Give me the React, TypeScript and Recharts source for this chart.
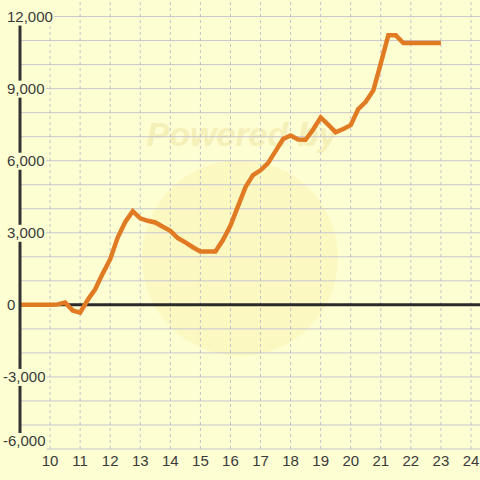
import { LineChart, Line, XAxis, YAxis, ReferenceLine } from 'recharts'

const hours = [
  9, 9.25, 9.5, 9.75, 10, 10.25, 10.5, 10.75, 11, 11.25, 11.5, 11.75, 12, 12.25, 12.5, 12.75,
  13, 13.25, 13.5, 13.75, 14, 14.25, 14.5, 14.75, 15, 15.25, 15.5, 15.75, 16, 16.25, 16.5, 16.75,
  17, 17.25, 17.5, 17.75, 18, 18.25, 18.5, 18.75, 19, 19.25, 19.5, 19.75, 20, 20.25, 20.5, 20.75,
  21, 21.25, 21.5, 21.75, 22, 22.25, 22.5, 22.75, 23
]
const profit = [
  0, 0, 0, 0, 0, 20, 100, -230, -320, 200, 650, 1300, 1900, 2800, 3450, 3900,
  3600, 3500, 3430, 3250, 3080, 2780, 2600, 2400, 2220, 2220, 2220, 2700, 3300, 4100, 4900, 5400,
  5600, 5900, 6400, 6900, 7050, 6880, 6870, 7300, 7800, 7500, 7180, 7320, 7480, 8150, 8450, 8920,
  10050, 11220, 11220, 10900, 10900, 10900, 10900, 10900, 10900
]
const xTicks = [10, 11, 12, 13, 14, 15, 16, 17, 18, 19, 20, 21, 22, 23, 24]
const yTicks = [-6000, -3000, 0, 3000, 6000, 9000, 12000]
const gridTicks = [-6000, -5000, -4000, -3000, -2000, -1000, 1000, 2000, 3000, 4000, 5000, 6000, 7000, 8000, 9000, 10000, 11000, 12000]

const data = hours.map((t, i) => ({ t, v: profit[i] }))

const bg = '#FEFED3'
const font = '"Liberation Sans", Arial, sans-serif'

const fmt = (v: number) => v.toLocaleString('en-US')

function YTick({ y, payload }: any) {
  const value = payload.value as number
  const label = fmt(value)
  const tx = value < 0 ? 3 : 7
  const w = label.replace(/[,-]/g, '').length * 8.4 + (label.includes(',') ? 4.2 : 0) + (value < 0 ? 5 : 0)
  const base = value === -6000 ? y - 3 : y + 5
  const top = value === 12000 ? 0 : base - 13
  return (
    <g>
      <rect x={tx - 1} y={top} width={w + 2} height={base + 4 - top} fill={bg} />
      <text x={tx} y={base} fontSize={15} fontFamily={font} fill="#3a3a3a" textAnchor="start">
        {label}
      </text>
    </g>
  )
}

function XTick({ x, payload }: any) {
  return (
    <text x={x} y={466} fontSize={15} fontFamily={font} fill="#3a3a3a" textAnchor="middle">
      {payload.value}
    </text>
  )
}

export default function App() {
  return (
    <div style={{ position: 'absolute', left: 0, top: 0, width: 480, height: 480, background: bg }}>
      <svg width={480} height={480} style={{ position: 'absolute', left: 0, top: 0 }}>
        <circle cx={240} cy={258} r={98} fill="#FAF0A8" opacity={0.4} />
        <text
          x={242}
          y={146}
          fontSize={34}
          fontWeight="bold"
          fontStyle="italic"
          fontFamily={font}
          fill="#F3EAB0"
          textAnchor="middle"
          opacity={0.75}
        >
          Powered by
        </text>
      </svg>
      <div style={{ position: 'absolute', left: 0, top: 0 }}>
        <LineChart width={480} height={480} data={data} margin={{ top: 0, right: 0, left: 0, bottom: 0 }}>
          {gridTicks.map((v) => (
            <ReferenceLine key={'h' + v} y={v} stroke="#C6C6CE" strokeWidth={1} />
          ))}
          {xTicks.map((t) => (
            <ReferenceLine key={'v' + t} x={t} stroke="#C0C0CA" strokeDasharray="3 3" />
          ))}
          <XAxis
            dataKey="t"
            type="number"
            domain={[9, 24.3]}
            allowDataOverflow
            ticks={xTicks}
            height={31}
            axisLine={false}
            tickLine={false}
            tick={<XTick />}
            interval={0}
          />
          <YAxis
            domain={[-6000, 12690]}
            allowDataOverflow
            ticks={yTicks}
            width={20}
            axisLine={{ stroke: '#333', strokeWidth: 3 }}
            tickLine={false}
            tick={<YTick />}
            interval={0}
          />
          <ReferenceLine y={0} stroke="#2a2a2a" strokeWidth={3} />
          <Line
            type="linear"
            dataKey="v"
            stroke="#E07B24"
            strokeWidth={4.5}
            dot={false}
            activeDot={false}
            isAnimationActive={false}
          />
        </LineChart>
      </div>
    </div>
  )
}
